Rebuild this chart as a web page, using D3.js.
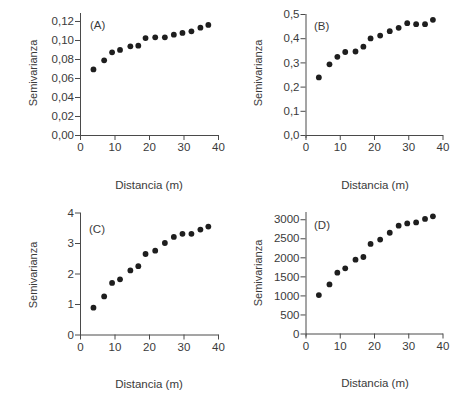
<!DOCTYPE html>
<html>
<head>
<meta charset="utf-8">
<script src="https://cdn.jsdelivr.net/npm/d3@7"></script>
<style>
  body { margin: 0; background: #fff; }
  text { font-family: "Liberation Sans", Arial, sans-serif; fill: #3a3a3a; }
  .tick text { font-size: 11.5px; }
  .tick line, .domain { stroke: #4a4a4a; stroke-width: 1; }
</style>
</head>
<body>
<svg id="chart" width="469" height="402"></svg>
<script>
// distances (m), shared by all four semivariograms
const distancia = [3.9, 7, 9.3, 11.6, 14.6, 16.9, 19, 21.8, 24.6, 27.2, 29.7, 32.3, 34.9, 37.2];

const semivarA = [0.069, 0.0786, 0.087, 0.0895, 0.0933, 0.094, 0.102, 0.1028, 0.1028, 0.1056, 0.1074, 0.1091, 0.113, 0.1158];
const semivarB = [0.238, 0.292, 0.323, 0.343, 0.345, 0.365, 0.399, 0.411, 0.429, 0.443, 0.462, 0.458, 0.458, 0.476];
const semivarC = [0.88, 1.25, 1.69, 1.81, 2.1, 2.24, 2.64, 2.75, 3.0, 3.2, 3.3, 3.3, 3.44, 3.54];
const semivarD = [1010, 1289, 1596, 1710, 1939, 2009, 2351, 2465, 2645, 2830, 2890, 2915, 3008, 3076];

const xTicks = [0, 10, 20, 30, 40];
const ticksA = [0, 0.02, 0.04, 0.06, 0.08, 0.10, 0.12];
const ticksB = [0, 0.1, 0.2, 0.3, 0.4, 0.5];
const ticksC = [0, 1, 2, 3, 4];
const ticksD = [0, 500, 1000, 1500, 2000, 2500, 3000];

const svg = d3.select("#chart");

const panels = [
  { tag: "(A)", values: semivarA, ticks: ticksA, fmt: v => d3.format(".2f")(v).replace(".", ","),
    left: 80, right: 218, bottom: 135, top: 13, ymax: 0.1284, labX: 90, labY: 29, yTitleX: 33, yTitleY: 73, xTitleX: 149, xTitleY: 189 },
  { tag: "(B)", values: semivarB, ticks: ticksB, fmt: v => d3.format(".1f")(v).replace(".", ","),
    left: 305.5, right: 442.5, bottom: 135, top: 14, ymax: 0.5, labX: 314, labY: 30, yTitleX: 258, yTitleY: 73, xTitleX: 375, xTitleY: 189 },
  { tag: "(C)", values: semivarC, ticks: ticksC, fmt: d3.format("d"),
    left: 80, right: 218, bottom: 334.5, top: 212.5, ymax: 4, labX: 89, labY: 233, yTitleX: 33, yTitleY: 275, xTitleX: 149, xTitleY: 388 },
  { tag: "(D)", values: semivarD, ticks: ticksD, fmt: d3.format("d"),
    left: 305.5, right: 442.5, bottom: 333.5, top: 212, ymax: 3190, labX: 314, labY: 229, yTitleX: 258, yTitleY: 273, xTitleX: 375, xTitleY: 387 }
];

panels.forEach(p => {
  const x = d3.scaleLinear().domain([0, 40]).range([p.left, p.right]);
  const y = d3.scaleLinear().domain([0, p.ymax]).range([p.bottom, p.top]);

  const g = svg.append("g");

  g.append("g")
    .attr("transform", `translate(0,${p.bottom})`)
    .call(d3.axisBottom(x).tickValues(xTicks).tickSize(5).tickSizeOuter(0).tickPadding(3));

  const yAxis = g.append("g")
    .attr("transform", `translate(${p.left},0)`)
    .call(d3.axisLeft(y).tickValues(p.ticks).tickFormat(p.fmt).tickSize(5).tickSizeOuter(0).tickPadding(1));
  yAxis.select(".domain").attr("d", `M0.5,${p.bottom + 3}V${p.top}`);

  g.selectAll("circle")
    .data(p.values)
    .join("circle")
    .attr("cx", (d, i) => x(distancia[i]))
    .attr("cy", d => y(d))
    .attr("r", 2.9)
    .attr("fill", "#1e1e1e");

  g.append("text")
    .attr("x", p.labX).attr("y", p.labY)
    .style("font-size", "11.5px")
    .text(p.tag);

  g.append("text")
    .attr("transform", `translate(${p.yTitleX},${p.yTitleY}) rotate(-90)`)
    .attr("text-anchor", "middle")
    .attr("dy", "0.35em")
    .style("font-size", "11px")
    .text("Semivarianza");

  g.append("text")
    .attr("x", p.xTitleX).attr("y", p.xTitleY)
    .attr("text-anchor", "middle")
    .style("font-size", "11.5px")
    .text("Distancia (m)");
});
</script>
</body>
</html>
